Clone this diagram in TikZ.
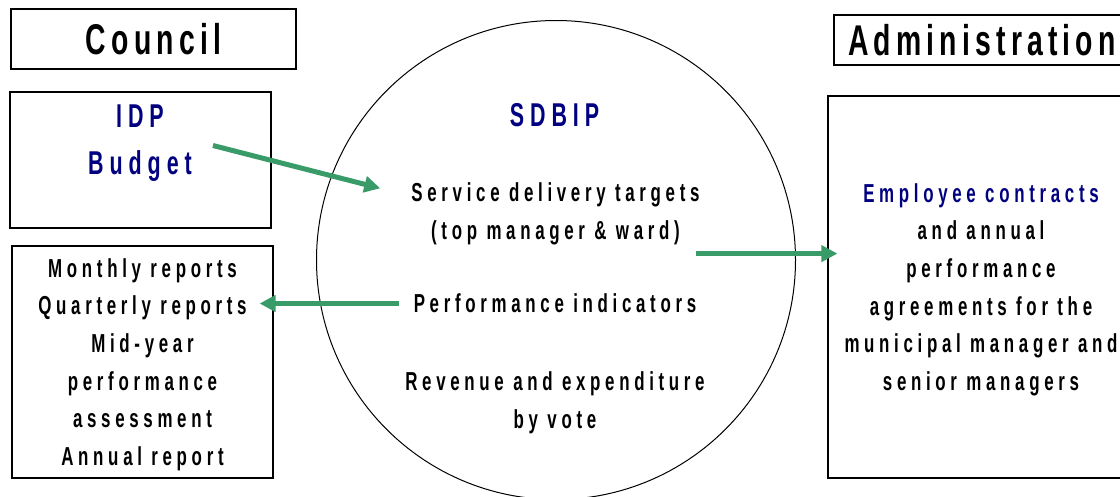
\documentclass[tikz,border=0pt]{standalone}
\usepackage{fontspec}
\setmainfont{Liberation Sans}
\newfontfamily\slimfont{Liberation Sans Bold}[FakeStretch=0.65,LetterSpace=18]
\newfontfamily\slimtitle{Liberation Sans Bold}[FakeStretch=0.66,LetterSpace=12]
\usetikzlibrary{arrows.meta,calc}
\definecolor{flowgreen}{RGB}{56,155,104}
\definecolor{plannavy}{RGB}{0,0,128}
\tikzset{
  frame/.style={rectangle, draw=black, line width=1.2pt, inner sep=0pt},
  title/.style={font=\slimtitle\fontsize{43}{43}\selectfont, text height=30.8pt, text depth=0pt},
  body/.style={font=\slimfont\fontsize{26}{37.6}\selectfont, align=center, inner sep=0pt, text height=18.6pt, text depth=0pt},
  head/.style={font=\slimfont\fontsize{33}{47}\selectfont, text=plannavy, align=center, inner sep=0pt, text height=23.6pt, text depth=0pt},
  flow/.style={draw=flowgreen, line width=5pt, -{Triangle[length=16pt,width=16pt]}}
}

\begin{document}
\begin{tikzpicture}[x=1pt,y=-1pt]
  \useasboundingbox (0,0) rectangle (1120,496);
  \fill[white] (0,0) rectangle (1120,496);
  \clip (0,0) rectangle (1120,496);
  % council side
  \node[frame, title, minimum width=285pt, minimum height=60pt] (council) at (153.5,39) {Council};
  \node[frame, minimum width=261pt, minimum height=136pt] (idpbox) at (140.5,160) {};
  \node[head, anchor=north, text height=70.6pt] (idp) at (140,104) {IDP\\Budget};
  \node[frame, body, text height=206.6pt, minimum width=261pt, minimum height=232pt] (reports) at (142.5,362)
    {Monthly reports\\Quarterly reports\\Mid-year\\performance\\assessment\\Annual report};
  % administration side
  \node[frame, title, minimum width=296pt, minimum height=50pt] (admin) at (982,40) {Administration};
  \node[frame, body, text height=206.6pt, minimum width=306pt, minimum height=382pt] (contracts) at (981,287)
    {\textcolor{plannavy}{Employee contracts}\\and annual\\performance\\agreements for the\\municipal manager and\\senior managers};
  % sdbip in the middle
  \node[circle, draw, line width=1pt, minimum size=479pt, inner sep=0pt] (sdbip) at (556,260) {};
  \node[head, anchor=north] (sdbiptitle) at (554.5,103) {SDBIP};
  \node[body, anchor=north, text height=56.2pt] (targets) at (555.5,183) {Service delivery targets\\(top manager \& ward)};
  \node[body, anchor=north] (indicators) at (555,294) {Performance indicators};
  \node[body, anchor=north, text height=56.2pt] (revenue) at (555,372) {Revenue and expenditure\\by vote};
  %
  \coordinate (targetsout) at ([xshift=-4pt,yshift=-14pt]targets.south east);
  \draw[flow] ([xshift=21pt,yshift=-6pt]idp.east) -- ([xshift=-31pt,yshift=23pt]targets.west);
  \draw[flow] ([xshift=-15pt]indicators.west) -- ([xshift=-14pt]indicators.west -| reports.east);
  \draw[flow] (targetsout) -- ([xshift=10pt]targetsout -| contracts.west);
\end{tikzpicture}
\end{document}
